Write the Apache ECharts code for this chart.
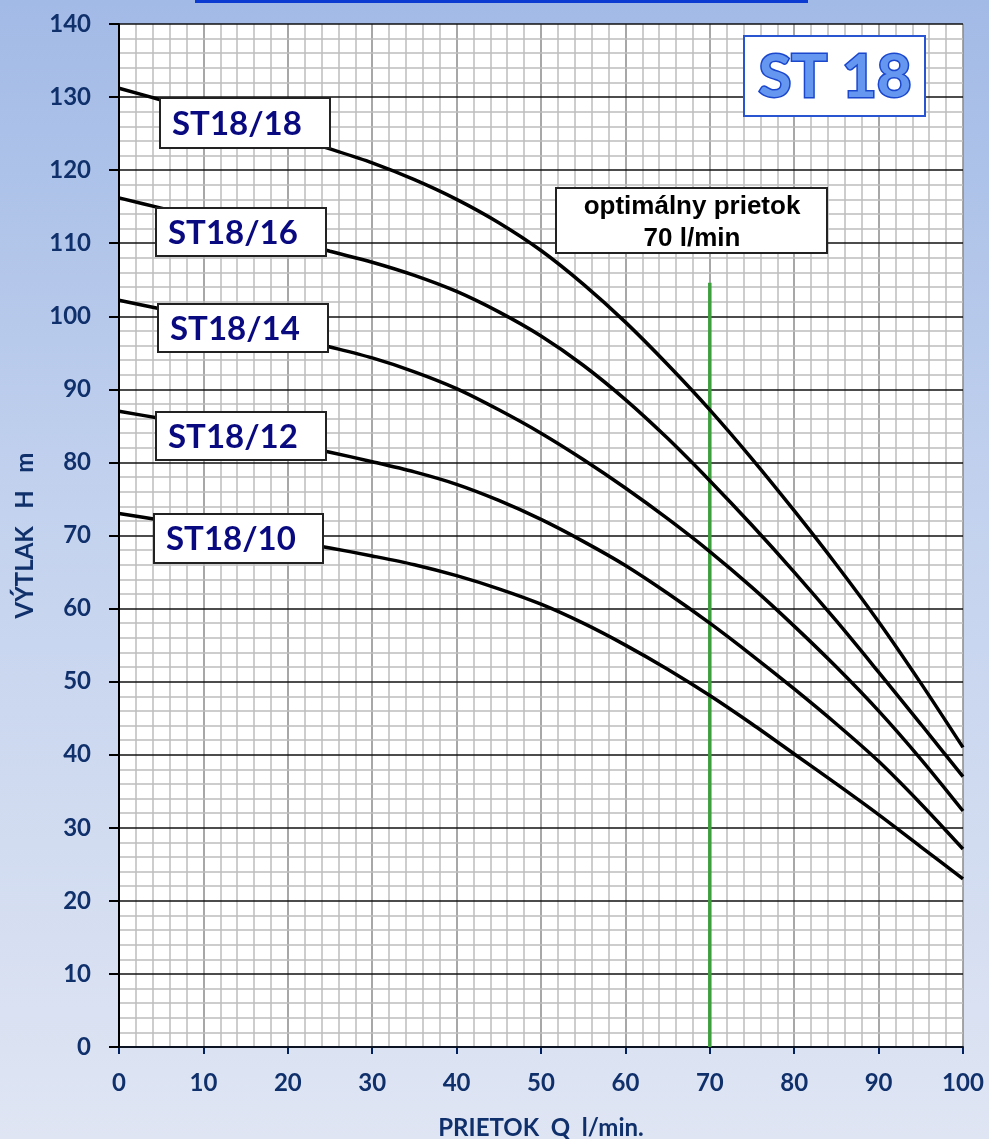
<!DOCTYPE html>
<html>
<head>
<meta charset="utf-8">
<script src="https://cdn.jsdelivr.net/npm/echarts@6/dist/echarts.min.js"></script>
<style>
html,body{margin:0;padding:0;}
#wrap{width:989px;height:1139px;background:linear-gradient(180deg,#a2bae6 0%,#c3d2ee 45%,#dfe5f3 100%);}
#chart{width:989px;height:1139px;}
</style>
</head>
<body>
<div id="wrap"><div id="chart"></div></div>
<script>
// Flow Q (l/min)
const flow = [0,5,10,15,20,25,30,35,40,45,50,55,60,65,70,75,80,85,90,95,100];
// Head H (m) per pump model
const st18_18 = [131.2,129.6,128.0,126.4,124.7,122.9,121.0,118.7,116.0,112.8,109.0,104.4,99.2,93.4,87.2,80.5,73.4,66.0,58.2,49.8,41.0];
const st18_16 = [116.2,114.8,113.4,112.0,110.5,108.9,107.4,105.6,103.4,100.6,97.3,93.3,88.6,83.3,77.5,71.4,65.0,58.3,51.3,44.2,37.0];
const st18_14 = [102.2,101.0,99.8,98.5,97.2,95.8,94.3,92.4,90.1,87.2,84.0,80.4,76.5,72.3,67.8,62.9,57.6,52.0,46.0,39.4,32.3];
const st18_12 = [87.0,86.0,84.9,83.8,82.6,81.4,80.1,78.7,77.0,74.8,72.2,69.2,65.9,62.1,58.0,53.6,49.0,44.2,39.1,33.3,27.1];
const st18_10 = [73.0,72.1,71.2,70.3,69.3,68.3,67.2,66.0,64.5,62.7,60.6,58.0,55.0,51.7,48.1,44.2,40.1,36.0,31.8,27.4,23.0];
const seriesNames = ['ST18/18','ST18/16','ST18/14','ST18/12','ST18/10'];
const seriesValues = [st18_18, st18_16, st18_14, st18_12, st18_10];
// optimal flow marker
const optimalFlow = 70;
const optimalLineTop = 104.6;
// axis settings
const xTicks = [0,10,20,30,40,50,60,70,80,90,100];
const yTicks = [0,10,20,30,40,50,60,70,80,90,100,110,120,130,140];
const xName = 'PRIETOK  Q  l/min.';
const yName = 'VÝTLAK   H   m';
const badgeText = 'ST 18';
const optText = ['optimálny prietok', '70 l/min'];

const chart = echarts.init(document.getElementById('chart'), null, {renderer:'canvas'});
const navy = '#10306b';
const labelFont = 'Lato, "Open Sans", sans-serif';
const ZT = 100;

const series = seriesValues.map((vals, i) => ({
  name: seriesNames[i],
  type: 'line',
  smooth: 0.3,
  showSymbol: false,
  silent: true,
  z: 4,
  lineStyle: {color: '#000', width: 3.5},
  data: flow.map((q, j) => [q, vals[j]])
}));
series.unshift({
  name: 'optimal',
  type: 'line',
  showSymbol: false,
  silent: true,
  z: 3,
  lineStyle: {color: '#3c9e3c', width: 3.5},
  data: [[optimalFlow, 0], [optimalFlow, optimalLineTop]]
});

function labelBox(x, y, w, h, text) {
  return {
    type: 'group', x: x, y: y, z: ZT,
    children: [
      {type: 'rect', z: ZT, shape: {x: 0, y: 0, width: w, height: h},
       style: {fill: '#fff', stroke: '#222', lineWidth: 2}},
      {type: 'text', z: ZT + 1, x: 12, y: h / 2 + 1,
       style: {text: text, fill: '#0a0a80', font: 'bold 33px ' + labelFont,
               textAlign: 'left', textVerticalAlign: 'middle'}}
    ]
  };
}

const optFont = 'bold 26px "Liberation Sans", Arial, sans-serif';
const graphics = [
  {type: 'rect', z: ZT, shape: {x: 195, y: 0, width: 613, height: 3}, style: {fill: '#0b3bd0'}},
  labelBox(160, 98, 170, 50, seriesNames[0]),
  labelBox(156, 208, 170, 48, seriesNames[1]),
  labelBox(158, 304, 170, 48, seriesNames[2]),
  labelBox(156, 412, 170, 48, seriesNames[3]),
  labelBox(154, 514, 169, 49, seriesNames[4]),
  {type: 'group', x: 556, y: 188, z: ZT, children: [
    {type: 'rect', z: ZT, shape: {x: 0, y: 0, width: 271, height: 65},
     style: {fill: '#fff', stroke: '#222', lineWidth: 2}},
    {type: 'text', z: ZT + 1, x: 136, y: 19,
     style: {text: optText[0], fill: '#000', font: optFont,
             textAlign: 'center', textVerticalAlign: 'middle'}},
    {type: 'text', z: ZT + 1, x: 136, y: 51,
     style: {text: optText[1], fill: '#000', font: optFont,
             textAlign: 'center', textVerticalAlign: 'middle'}}
  ]},
  {type: 'group', x: 744, y: 36, z: ZT, children: [
    {type: 'rect', z: ZT, shape: {x: 0, y: 0, width: 181, height: 80},
     style: {fill: '#fff', stroke: '#2a55d0', lineWidth: 2}},
    {type: 'text', z: ZT + 1, x: 91, y: 42,
     style: {text: badgeText, font: 'bold 60px ' + labelFont,
             fill: '#6596f0',
             stroke: '#1b47cc', lineWidth: 3,
             shadowColor: 'rgba(0,0,0,0.35)', shadowBlur: 4, shadowOffsetX: 2, shadowOffsetY: 3,
             textAlign: 'center', textVerticalAlign: 'middle'}}
  ]}
];

chart.setOption({
  animation: false,
  backgroundColor: 'transparent',
  grid: {left: 119, right: 26, top: 24, bottom: 92, show: true, backgroundColor: '#fff', borderWidth: 0,
         containLabel: false, outerBoundsMode: 'none'},
  xAxis: {
    type: 'value', min: xTicks[0], max: xTicks[xTicks.length - 1], interval: 10, z: 0,
    axisLine: {show: true, onZero: false, lineStyle: {color: '#002060', width: 2}},
    axisTick: {show: true, length: 7, lineStyle: {color: '#002060', width: 2}},
    minorTick: {show: false, splitNumber: 5},
    splitLine: {show: true, lineStyle: {color: '#8a8a8a', width: 1.5}},
    minorSplitLine: {show: true, lineStyle: {color: '#bdbdbd', width: 1.5}},
    axisLabel: {color: navy, fontFamily: labelFont, fontWeight: 'bold', fontSize: 24, margin: 24},
    name: xName, nameLocation: 'middle', nameGap: 69,
    nameTextStyle: {color: navy, fontFamily: labelFont, fontWeight: 'bold', fontSize: 24}
  },
  yAxis: {
    type: 'value', min: yTicks[0], max: yTicks[yTicks.length - 1], interval: 10, z: 1,
    axisLine: {show: true, onZero: false, lineStyle: {color: '#000', width: 2}},
    axisTick: {show: true, inside: false, length: 10, lineStyle: {color: '#000', width: 2}},
    minorTick: {show: false, splitNumber: 5},
    splitLine: {show: true, lineStyle: {color: '#111', width: 1.5}},
    minorSplitLine: {show: true, lineStyle: {color: '#bdbdbd', width: 1.5}},
    axisLabel: {color: navy, fontFamily: labelFont, fontWeight: 'bold', fontSize: 24, margin: 28},
    name: yName, nameLocation: 'middle', nameGap: 82,
    nameTextStyle: {color: navy, fontFamily: labelFont, fontWeight: 'bold', fontSize: 24}
  },
  series: series,
  graphic: graphics
});
</script>
</body>
</html>
